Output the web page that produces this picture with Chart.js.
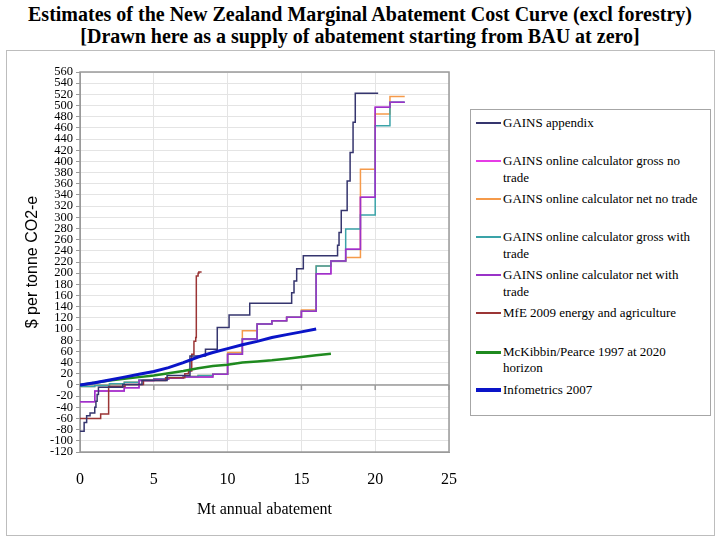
<!DOCTYPE html>
<html>
<head>
<meta charset="utf-8">
<script src="https://cdn.jsdelivr.net/npm/chart.js@4.4.1/dist/chart.umd.min.js"></script>
<style>
body{margin:0;background:#fff;}
#wrap{position:relative;width:720px;height:540px;overflow:hidden;font-family:"Liberation Serif","Times New Roman",serif;color:#000;}
#title{position:absolute;left:0;top:3px;width:720px;text-align:center;font-weight:bold;font-size:20px;line-height:22px;}
#frame{position:absolute;left:6px;top:50px;width:707px;height:484px;border:1px solid #bdbdbd;}
#chart{position:absolute;left:0;top:0;}
#legend{position:absolute;left:470px;top:109px;width:239px;height:305px;border:1px solid #a6a6a6;background:#fff;}
.item{position:relative;height:38.1px;}
.item .sw{position:absolute;left:5px;width:25px;}
.item .tx{position:absolute;left:32px;top:5px;font-size:13px;line-height:16.5px;white-space:pre;}
</style>
</head>
<body>
<div id="wrap">
  <div id="title">Estimates of the New Zealand Marginal Abatement Cost Curve (excl forestry)<br>[Drawn here as a supply of abatement starting from BAU at zero]</div>
  <div id="frame"></div>
  <canvas id="chart" width="720" height="540"></canvas>
  <div id="legend"></div>
</div>
<script>
// series names and colours
const seriesNames = [
  'GAINS appendix',
  'GAINS online calculator gross no\ntrade',
  'GAINS online calculator net no trade',
  'GAINS online calculator gross with\ntrade',
  'GAINS online calculator net with\ntrade',
  'MfE 2009 energy and agriculture',
  'McKibbin/Pearce 1997 at 2020\nhorizon',
  'Infometrics 2007'
];
const seriesColors = ['#35356e','#e63ce6','#f59a4a','#3aa3a8','#9a33c8','#9b3535','#1f8a1f','#0a14c8'];
const seriesWidths = [1.5,1.5,1.5,1.5,1.5,1.5,2.5,3];

// GAINS appendix (steps)
const appendixX = [0,0.28,0.45,0.68,1.0,1.08,1.16,1.25,2.9,4.2,5.9,7.45,8.5,9.3,10.1,11.5,14.34,14.5,14.68,15.13,17.45,17.55,17.7,18.1,18.3,18.5,18.65,20.2];
const appendixY = [-83,-67,-55,-50,-40,-29,-17,-4,1,8,17,52,64,103,125,146,165,186,208,231,250,273,312,365,416,470,522,522];

// GAINS online calculator, 1 Mt steps
const gainsX       = [0,1,2,3,4,5,6,7,8,9,10,11,12,13,14,15,16,17,18,19,20,21,22];
const grossNoTrY   = [-30,-11,-11,-5,8,10,12,14,14,19,55,82,109,115,121,132,199,222,243,336,497,506,506];
const netNoTrY     = [-3,-1,2,5,9,11,13,15,17,19,58,97,109,115,121,134,213,222,228,386,485,516,516];
const grossWithTrY = [-3,-1,2,5,9,11,13,15,17,19,55,82,109,115,121,132,213,222,279,304,464,506,506];
const netWithTrY   = [-30,-11,-11,-5,8,10,12,14,14,19,55,82,109,115,121,132,199,222,243,336,497,506,506];

// MfE 2009 (steps)
const mfeX = [0,1.4,1.94,3.05,4.3,5.8,7.1,7.35,7.57,7.72,7.84,7.88,8.0,8.05,8.24];
const mfeY = [-60,-52,-3,1,8,13,20,25,55,78,85,195,200,202,202];

// McKibbin/Pearce 1997
const mckX = [0,1,2,3,4,5,6,7,8,9,10,11,12,13,14,15,16,17];
const mckY = [0,4,8,11,14,17,21,25,30,34,36,40,42,44,47,50,53,56];

// Infometrics 2007
const infoX = [0,1,2,3,4,5,6,7,8,9,10,11,12,13,14,15,16];
const infoY = [0,4,9,14,19,24,31,40,50,58,65,72,78,85,90,95,100];

// axis ticks
const xTicks = [0,5,10,15,20,25];
const yMin = -120, yMax = 560, yStep = 20;

const serif = "'Liberation Serif', 'Times New Roman', serif";
const sans = "'Liberation Sans', Arial, sans-serif";

const pts = (xs, ys) => xs.map((x, i) => ({x: x, y: ys[i]}));

const seriesData = [
  pts(appendixX, appendixY),
  pts(gainsX, grossNoTrY),
  pts(gainsX, netNoTrY),
  pts(gainsX, grossWithTrY),
  pts(gainsX, netWithTrY),
  pts(mfeX, mfeY),
  pts(mckX, mckY),
  pts(infoX, infoY)
];
const stepped = [true,true,true,true,true,true,false,false];
const drawOrder = [2,7,6,5,4,3,1,0];

const frame = {
  id: 'frame',
  beforeDatasetsDraw(chart) {
    const {ctx, chartArea: a, scales: {x, y}} = chart;
    ctx.save();
    ctx.strokeStyle = '#9a9a9a';
    ctx.lineWidth = 1.5;
    ctx.strokeRect(a.left, a.top, a.right - a.left, a.bottom - a.top);
    const y0 = y.getPixelForValue(0);
    ctx.beginPath();
    ctx.moveTo(a.left, y0);
    ctx.lineTo(a.right, y0);
    x.ticks.forEach(t => {
      const px = x.getPixelForValue(t.value);
      ctx.moveTo(px, y0);
      ctx.lineTo(px, y0 + 5);
    });
    ctx.stroke();
    ctx.restore();
  }
};

new Chart(document.getElementById('chart'), {
  type: 'line',
  data: {
    datasets: seriesData.map((d, i) => ({
      label: seriesNames[i].replace('\n', ' '),
      data: d,
      borderColor: seriesColors[i],
      backgroundColor: seriesColors[i],
      borderWidth: seriesWidths[i],
      stepped: stepped[i],
      tension: 0,
      pointRadius: 0,
      fill: false,
      order: drawOrder[i]
    }))
  },
  options: {
    responsive: false,
    animation: false,
    layout: {padding: {top: 72, left: 10, right: 271, bottom: 13}},
    plugins: {legend: {display: false}, tooltip: {enabled: false}},
    scales: {
      x: {
        type: 'linear',
        min: 0, max: 25,
        afterFit(s) { s.height = 75; },
        afterBuildTicks(s) { s.ticks = xTicks.map(v => ({value: v})); },
        ticks: {color: '#000', padding: 18, font: {family: serif, size: 16}},
        grid: {color: '#e4e4e4', drawTicks: false},
        border: {color: '#9a9a9a'},
        title: {display: true, text: 'Mt annual abatement', color: '#000',
                font: {family: serif, size: 16}, padding: {top: 0, bottom: 8}}
      },
      y: {
        min: yMin, max: yMax,
        afterFit(s) { s.width = 70; },
        ticks: {stepSize: yStep, autoSkip: false, color: '#000', padding: 3,
                font: {family: serif, size: 12.5}},
        grid: {color: '#e4e4e4', tickColor: '#9a9a9a', tickLength: 4},
        border: {color: '#9a9a9a'},
        title: {display: true, text: '$ per tonne CO2-e', color: '#000',
                font: {family: sans, size: 16}, padding: {top: 13, bottom: 0}}
      }
    }
  },
  plugins: [frame]
});

// legend box, equal slots like the original
const legend = document.getElementById('legend');
seriesNames.forEach((name, i) => {
  const item = document.createElement('div');
  item.className = 'item';
  const h = Math.round(seriesWidths[i] + 0.5);
  const sw = document.createElement('div');
  sw.className = 'sw';
  sw.style.height = h + 'px';
  sw.style.top = Math.round(13 - h / 2) + 'px';
  sw.style.backgroundColor = seriesColors[i];
  const tx = document.createElement('div');
  tx.className = 'tx';
  tx.textContent = name;
  item.appendChild(sw);
  item.appendChild(tx);
  legend.appendChild(item);
});
</script>
</body>
</html>
